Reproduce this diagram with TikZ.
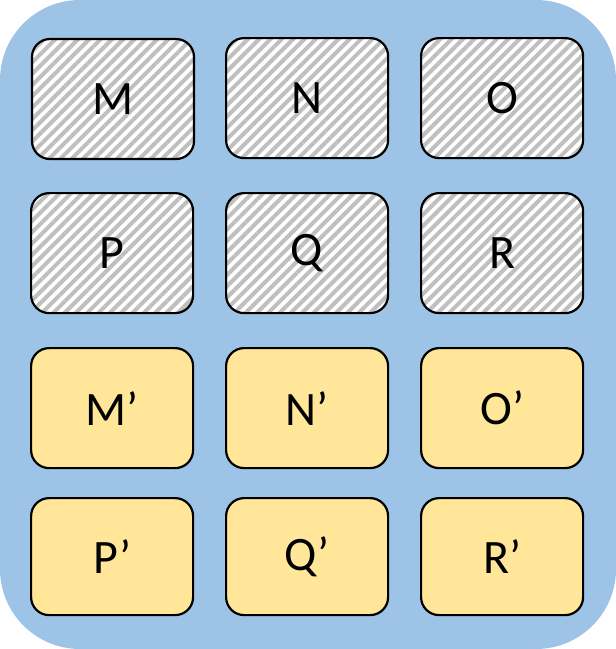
\documentclass[tikz,border=0pt]{standalone}
\usepackage{fontspec}
\setmainfont{Carlito}
\usetikzlibrary{patterns.meta}
\definecolor{bgblue}{HTML}{9DC3E6}
\definecolor{boxyellow}{HTML}{FFE699}
\definecolor{stripegray}{HTML}{BFBFBF}
\begin{document}
\begin{tikzpicture}[x=1pt,y=-1pt,
  cell/.style={draw=black,line width=2.2pt,rounded corners=18pt,minimum width=162pt,minimum height=120pt,inner sep=0pt,font=\fontsize{48}{52}\selectfont,anchor=north west},
  hatched/.style={cell,preaction={fill=white},pattern={Lines[angle=45,distance=8pt,line width=4pt]},pattern color=stripegray},
  plain/.style={cell,fill=boxyellow}]
\useasboundingbox (0,0) rectangle (616,649);
\fill[bgblue,rounded corners=80pt] (0,0) rectangle (616,649);
\node[hatched] (M) at (30,37) {M};
\node[hatched] (N) at (225,37) {N};
\node[hatched] (O) at (420,37) {O};
\node[hatched] (P) at (30,192) {P};
\node[hatched] (Q) at (225,192) {Q};
\node[hatched] (R) at (420,192) {R};
\node[plain] (M2) at (30,347) {M’};
\node[plain] (N2) at (225,347) {N’};
\node[plain] (O2) at (420,347) {O’};
\node[plain,minimum height=117pt] (P2) at (30,497) {P’};
\node[plain,minimum height=117pt] (Q2) at (225,497) {Q’};
\node[plain,minimum height=117pt] (R2) at (420,497) {R’};
\end{tikzpicture}
\end{document}
